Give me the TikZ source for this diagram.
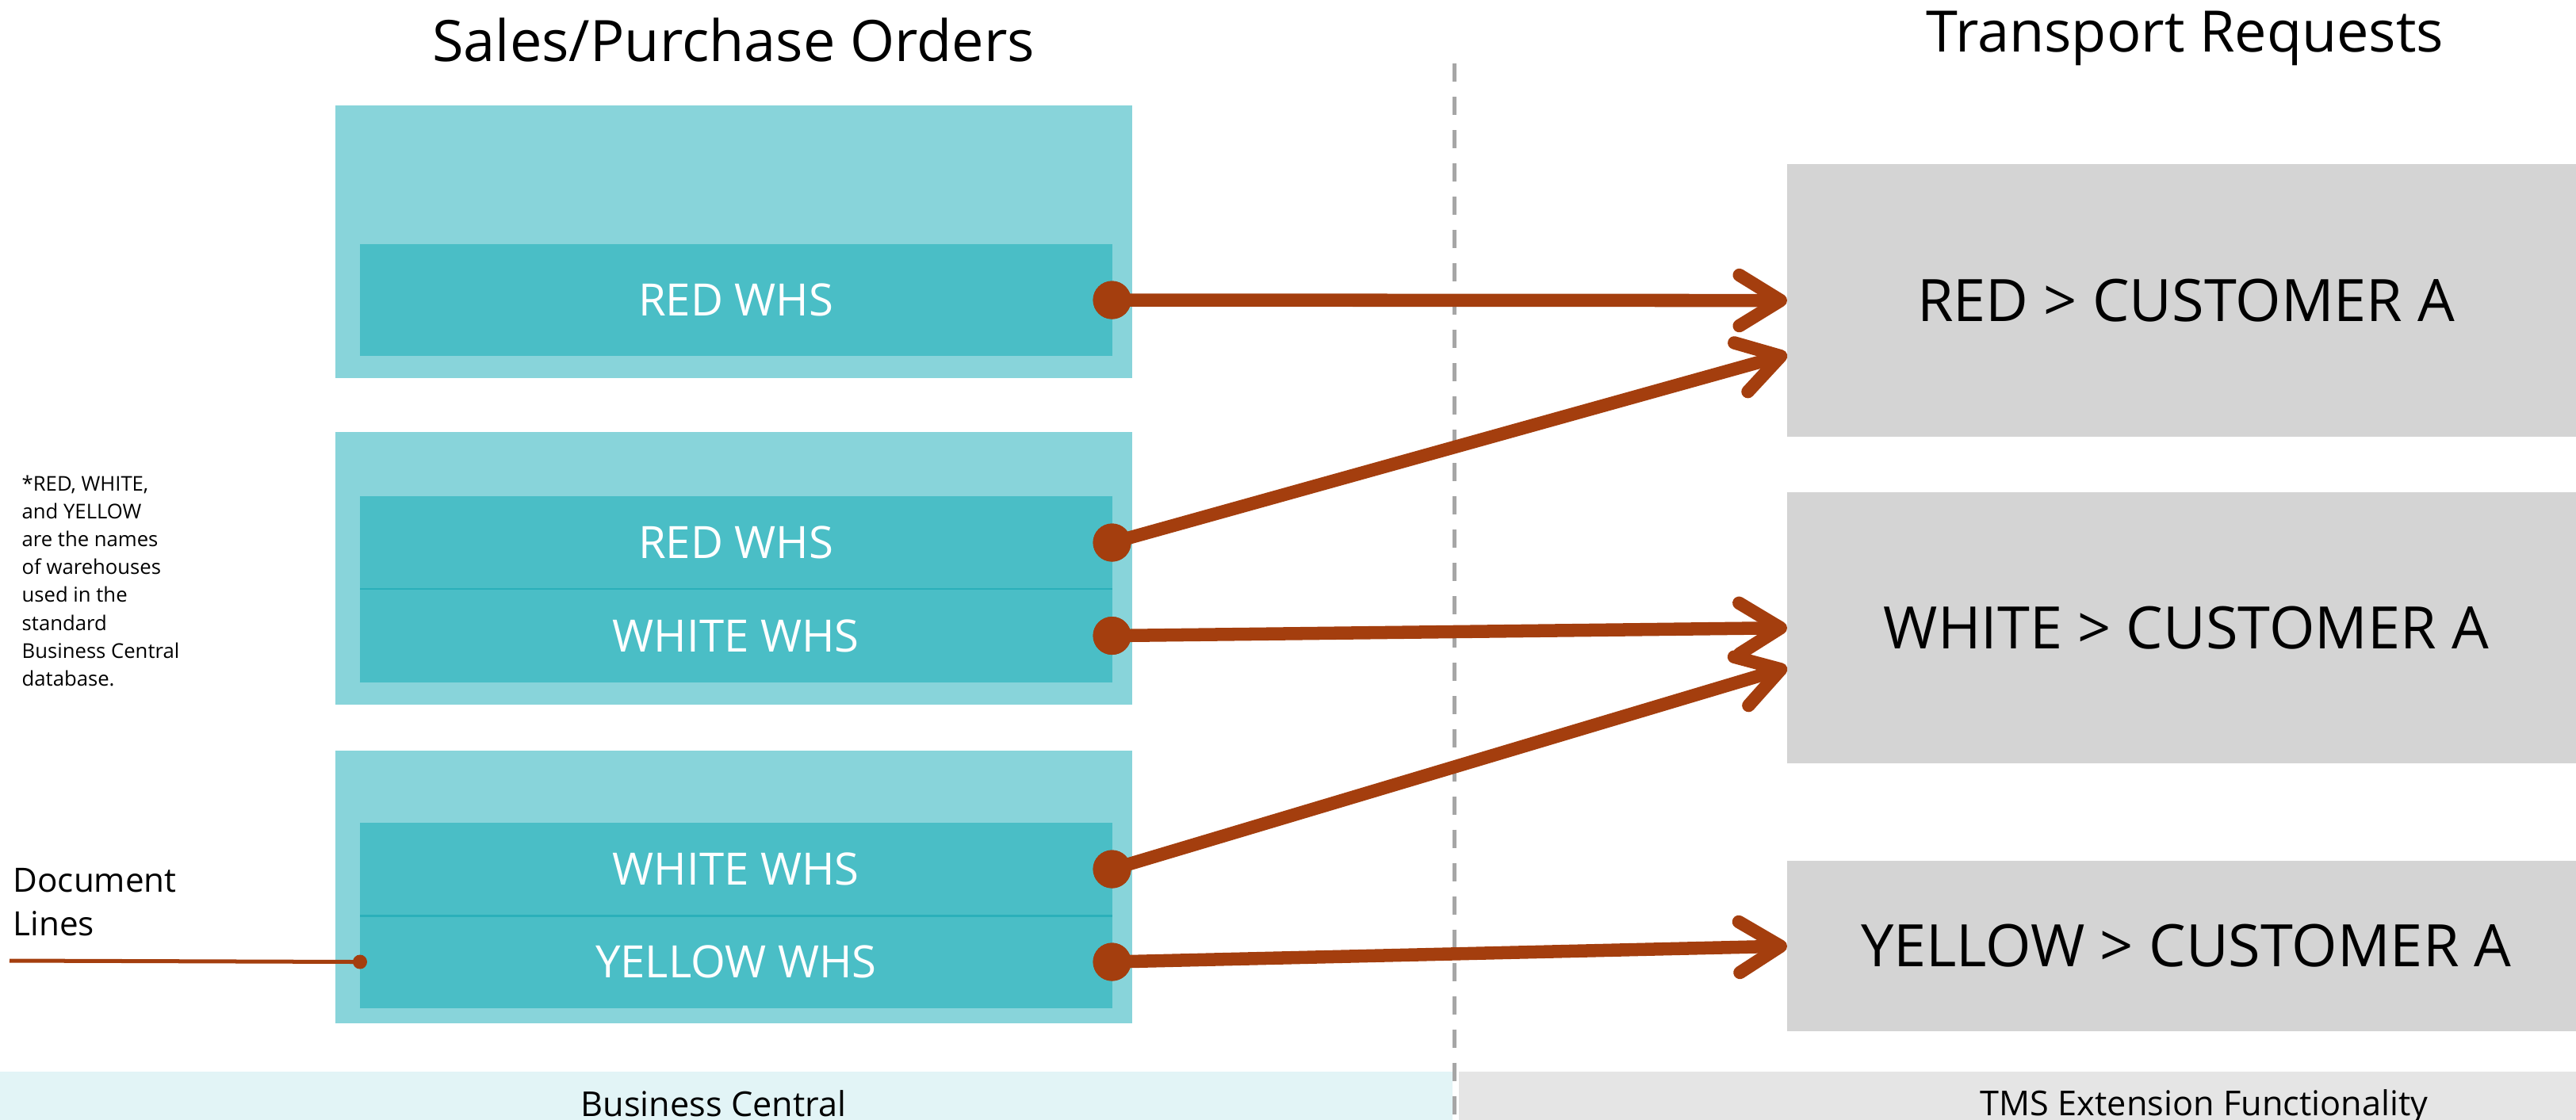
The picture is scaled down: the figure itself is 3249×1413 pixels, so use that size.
\documentclass[tikz,border=0pt]{standalone}
\usepackage{fontspec}
\setmainfont{Open Sans}
\usetikzlibrary{arrows.meta,calc}
\definecolor{outerc}{HTML}{88D4DA}
\definecolor{innerc}{HTML}{4ABEC6}
\definecolor{divc}{HTML}{2BB0BA}
\definecolor{arrowc}{HTML}{A43E0E}
\definecolor{grayc}{HTML}{D4D4D4}
\definecolor{bandl}{HTML}{E2F4F6}
\definecolor{bandr}{HTML}{E5E5E5}
\definecolor{dashc}{HTML}{A6A6A6}
\begin{document}
\begin{tikzpicture}[x=0.01cm,y=-0.01cm,
  box/.style={anchor=north west,inner sep=0pt,outer sep=0pt,draw=none},
  outerbox/.style={box,fill=outerc,minimum width=10.04cm,minimum height=3.44cm},
  rowbox/.style={box,fill=innerc,minimum width=9.48cm,text=white,font=\fontsize{16}{19}\selectfont},
  tbox/.style={box,fill=grayc,minimum width=10.06cm,font=\fontsize{21}{25}\selectfont},
  title/.style={anchor=base,inner sep=0pt,font=\fontsize{20.5}{24}\selectfont},
  band/.style={anchor=base,inner sep=0pt,font=\fontsize{12.3}{14}\selectfont},
  dotc/.style={circle,fill=arrowc,inner sep=0pt,minimum size=0.48cm},
  flow/.style={draw=arrowc,line width=4.7pt,-{Straight Barb[length=0.52cm,width=0.64cm,round]}},
  docline/.style={draw=arrowc,line width=0.05cm},
  sepline/.style={draw=dashc,line width=0.05cm,dash pattern=on 0.23cm off 0.19cm}
]
\useasboundingbox (0,0) rectangle (3249,1413);

% bottom bands
\fill[bandl] (0,1352) rectangle (1832,1413);
\fill[bandr] (1840,1352) rectangle (3249,1413);
\node[band] (bc) at (900,1408) {Business Central};
\node[band] (tms) at (2780,1407) {TMS Extension Functionality};

% separator
\coordinate (dtop) at (1834,80);
\coordinate (dbot) at (1834,1413);
\draw[sepline] (dtop) -- (dbot);

% titles
\node[title] (tl) at (925,78) {Sales/Purchase Orders};
\node[title] (tr) at (2756,66) {Transport Requests};

% left boxes
\node[outerbox] (ob1) at (423,133) {};
\node[outerbox] (ob2) at (423,545) {};
\node[outerbox] (ob3) at (423,947) {};
\node[rowbox,minimum height=1.41cm] (r1) at (454,308) {RED WHS};
\node[rowbox,minimum height=1.17cm] (r2a) at (454,626) {RED WHS};
\node[rowbox,minimum height=1.18cm] (r2b) at (454,743) {WHITE WHS};
\node[rowbox,minimum height=1.17cm] (r3a) at (454,1038) {WHITE WHS};
\node[rowbox,minimum height=1.17cm] (r3b) at (454,1155) {YELLOW WHS};
\draw[divc,line width=0.02cm] (r2a.south west) -- (r2a.south east);
\draw[divc,line width=0.03cm] (r3a.south west) -- (r3a.south east);

% right boxes
\node[tbox,minimum height=3.44cm] (t1) at (2254,207) {RED > CUSTOMER A};
\node[tbox,minimum height=3.42cm] (t2) at (2254,621) {WHITE > CUSTOMER A};
\node[tbox,minimum height=2.15cm] (t3) at (2254,1086) {YELLOW > CUSTOMER A};
\coordinate (t1b) at ($(t1.west)+(0,68)$);
\coordinate (t2b) at ($(t2.west)+(0,50)$);

% dots
\node[dotc] (d1) at (r1.east) {};
\node[dotc] (d2) at (r2a.east) {};
\node[dotc] (d3) at (r2b.east) {};
\node[dotc] (d4) at (r3a.east) {};
\node[dotc] (d5) at (r3b.east) {};

% arrows
\draw[flow] (d1.center) -- (t1.west);
\draw[flow] (d2.center) -- (t1b);
\draw[flow] (d3.center) -- (t2.west);
\draw[flow] (d4.center) -- (t2b);
\draw[flow] (d5.center) -- (t3.west);
\foreach \d in {d1,d2,d3,d4,d5} \node[dotc] at (\d.center) {};

% note
\node[anchor=north west,inner sep=0pt,align=left,font=\fontsize{7.3}{10}\selectfont] (note) at (27,599)
 {*RED, WHITE,\\and YELLOW\\are the names\\of warehouses\\used in the\\standard\\Business Central\\database.};

% document lines
\node[anchor=north west,inner sep=0pt,align=left,font=\fontsize{12}{15.6}\selectfont] (doc) at (16,1095)
 {Document\\Lines};
\coordinate (dl) at (12,1212);
\draw[docline] (dl) -- (r3b.west);
\node[circle,fill=arrowc,inner sep=0pt,minimum size=0.18cm] (dd) at (r3b.west) {};
\end{tikzpicture}
\end{document}
